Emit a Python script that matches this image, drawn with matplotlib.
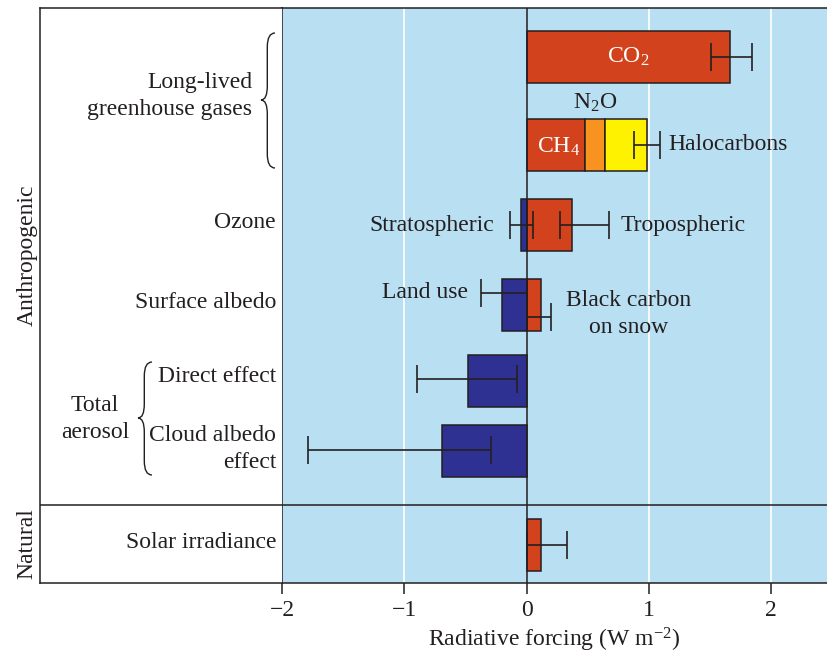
import numpy as np
import matplotlib.pyplot as plt
from matplotlib.path import Path
from matplotlib.patches import PathPatch

plt.rcParams['font.family'] = ['Liberation Serif', 'DejaVu Serif']
plt.rcParams['mathtext.fontset'] = 'custom'
plt.rcParams['mathtext.rm'] = 'Liberation Serif'
plt.rcParams['mathtext.it'] = 'Liberation Serif:italic'

ink = '#231f20'
red = '#d2431d'
orange = '#f7931e'
yellow = '#fff200'
navy = '#2e3192'
sky = '#b9dff3'

# forcing values (W m-2)
co2 = 1.66
ch4 = 0.48
n2o = 0.16
halo = 0.34
strat = -0.05
trop = 0.37
land_use = -0.20
black_carbon = 0.12
direct = -0.48
cloud = -0.69
solar = 0.12

# uncertainty ranges: low / high ends
err_names = ['co2', 'halo', 'strat', 'trop', 'land', 'bc', 'direct', 'cloud', 'solar']
err_lo = [1.51, 0.88, -0.14, 0.27, -0.37, 0.0, -0.90, -1.79, 0.0]
err_hi = [1.84, 1.09, 0.05, 0.67, 0.0, 0.20, -0.08, -0.29, 0.33]

xticks = [-2, -1, 0, 1, 2]

# layout (vertical positions in pixel rows of the figure)
row_y = [56.5, 145, 224.5, 304.5, 380.5, 451, 545]
err_y = [56.5, 145, 225, 225, 293, 317, 379, 450, 545]
bar_h = 52
sep_y = 505

fig = plt.figure(figsize=(8.27, 6.58), dpi=100)
W, H = 827, 658
ax = fig.add_axes([282 / W, (H - 583) / H, (W - 282) / W, (583 - 8) / H])
lab = fig.add_axes([40 / W, (H - 583) / H, 242 / W, (583 - 8) / H])

ax.set_facecolor(sky)
ax.set_xlim(-2, 2.455)
ax.set_ylim(583, 8)
lab.set_xlim(40, 282)
lab.set_ylim(583, 8)

for g in [-1, 1, 2]:
    ax.axvline(g, color='white', lw=1.2, zorder=1)
ax.axvline(0, color=ink, lw=1.1, zorder=4)
ax.axhline(sep_y, color=ink, lw=1.1, zorder=4)
lab.axhline(sep_y, color=ink, lw=1.1)

bk = dict(height=bar_h, edgecolor=ink, linewidth=1.1, zorder=3)
ax.barh(row_y[0], co2, color=red, **bk)
ax.barh(row_y[1], ch4, color=red, **bk)
ax.barh(row_y[1], n2o, left=ch4, color=orange, **bk)
ax.barh(row_y[1], halo, left=ch4 + n2o, color=yellow, **bk)
ax.barh(row_y[2], strat, color=navy, **bk)
ax.barh(row_y[2], trop, color=red, **bk)
ax.barh(row_y[3], land_use, color=navy, **bk)
ax.barh(row_y[3], black_carbon, color=red, **bk)
ax.barh(row_y[4], direct, color=navy, **bk)
ax.barh(row_y[5], cloud, color=navy, **bk)
ax.barh(row_y[6], solar, color=red, **bk)

lo = np.array(err_lo)
hi = np.array(err_hi)
ax.errorbar((lo + hi) / 2, err_y, xerr=(hi - lo) / 2, fmt='none', ecolor=ink,
            elinewidth=1.2, capsize=10, capthick=1.2, zorder=5)

# spines / ticks
ax.spines['right'].set_visible(False)
for s in ['left', 'top', 'bottom']:
    ax.spines[s].set_color(ink)
    ax.spines[s].set_linewidth(1.1)
ax.set_yticks([])
ax.set_xticks(xticks)
ax.set_xticklabels(['\u2212' + str(-t) if t < 0 else str(t) for t in xticks])
ax.tick_params(axis='x', direction='out', length=8, width=1.1, color=ink,
               labelsize=17, labelcolor=ink, pad=4)
ax.set_xlabel('Radiative forcing (W m$^{-2}$)', fontsize=17, color=ink, labelpad=4)

lab.spines['right'].set_visible(False)
for s in ['left', 'top', 'bottom']:
    lab.spines[s].set_color(ink)
    lab.spines[s].set_linewidth(1.1)
lab.set_xticks([])
lab.set_yticks([])

fs = 17
ls = 1.4
# labels inside plot
ax.text(0.83, row_y[0], 'CO$_2$', color='white', fontsize=fs, ha='center', va='center', zorder=6)
ax.text(ch4 / 2 + 0.02, row_y[1] + 2, 'CH$_4$', color='white', fontsize=fs, ha='center', va='center', zorder=6)
ax.text(ch4 + n2o / 2, 103, 'N$_2$O', color=ink, fontsize=fs, ha='center', va='center')
ax.text(1.16, row_y[1], 'Halocarbons', color=ink, fontsize=fs, ha='left', va='center')
ax.text(-0.27, 225, 'Stratospheric', color=ink, fontsize=fs, ha='right', va='center')
ax.text(0.77, 225, 'Tropospheric', color=ink, fontsize=fs, ha='left', va='center')
ax.text(-0.48, 292, 'Land use', color=ink, fontsize=fs, ha='right', va='center')
ax.text(0.83, 314, 'Black carbon\non snow', color=ink, fontsize=fs, ha='center', va='center',
        linespacing=ls)

# labels in left panel
lab.text(252, 96, 'Long-lived\ngreenhouse gases', fontsize=fs, color=ink, ha='right', va='center',
         linespacing=ls)
lab.text(276, 223, 'Ozone', fontsize=fs, color=ink, ha='right', va='center')
lab.text(276, 302, 'Surface albedo', fontsize=fs, color=ink, ha='right', va='center')
lab.text(276, 376, 'Direct effect', fontsize=fs, color=ink, ha='right', va='center')
lab.text(276, 449, 'Cloud albedo\neffect', fontsize=fs, color=ink, ha='right', va='center',
         linespacing=ls)
lab.text(95, 419, 'Total\naerosol', fontsize=fs, color=ink, ha='center', va='center',
         linespacing=ls)
lab.text(276, 542, 'Solar irradiance', fontsize=fs, color=ink, ha='right', va='center')
lab.text(27, 255, 'Anthropogenic', fontsize=fs, color=ink, ha='center', va='center',
         rotation=90, clip_on=False)
lab.text(27, 544, 'Natural', fontsize=fs, color=ink, ha='center', va='center',
         rotation=90, clip_on=False)


def brace(a, x_tip, x_end, y_top, y_bot, y_mid, r=14):
    xm = x_tip + (x_end - x_tip) * 0.45
    verts = [(x_end, y_top), (xm, y_top), (xm, y_top + r),
             (xm, y_mid - r), (xm, y_mid), (x_tip, y_mid),
             (xm, y_mid), (xm, y_mid + r),
             (xm, y_bot - r), (xm, y_bot), (x_end, y_bot)]
    codes = [Path.MOVETO, Path.CURVE3, Path.CURVE3,
             Path.LINETO, Path.CURVE3, Path.CURVE3,
             Path.CURVE3, Path.CURVE3,
             Path.LINETO, Path.CURVE3, Path.CURVE3]
    a.add_patch(PathPatch(Path(verts, codes), fill=False, edgecolor=ink, lw=1.0))


brace(lab, 261, 275, 33, 168, 100)
brace(lab, 138, 152, 362, 475, 418)

fig.savefig('out.png', dpi=100)
